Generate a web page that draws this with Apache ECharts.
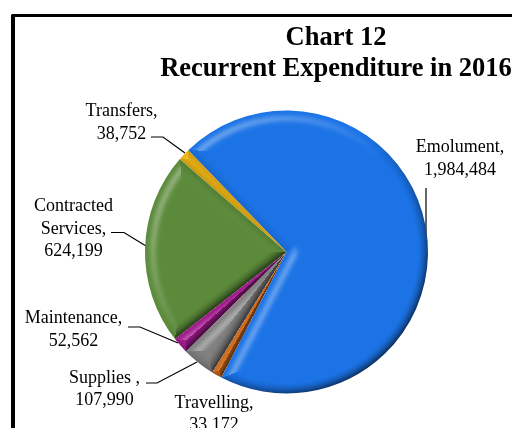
<!DOCTYPE html>
<html><head><meta charset="utf-8">
<style>html,body{margin:0;padding:0;background:#fff}#c{width:512px;height:428px}</style>
<script src="https://cdn.jsdelivr.net/npm/echarts@6/dist/echarts.min.js"></script></head>
<body><div id="c"></div>
<script>
const categories=['Emolument','Travelling','Supplies ','Maintenance','Contracted Services','Transfers'];
const labelNames=['Emolument,','Travelling,','Supplies ,','Maintenance,','Contracted\nServices,','Transfers,'];
const displayValues=['1,984,484','33,172','107,990','52,562','624,199','38,752'];
const values=[1984484,33172,107990,52562,624199,38752];
const baseColors=[[27,115,230],[205,105,26],[128,128,128],[160,24,140],[91,138,58],[236,180,20]];
const labelAnchors=[[460,159],[214,414.5],[104.5,389.5],[73.5,330],[73.5,229],[121.5,123]];
const leaderPaths=[
 [[426,236],[426,188]],
 [[222,376],[222,377]],
 [[197,362],[157,383],[146,383]],
 [[178,343],[140,327],[128,327]],
 [[146,246],[124,232.5],[111,232.5]],
 [[185,153],[163,137],[151,137]]
];
const cx=286.5,cy=252,R=141.5,startAngle=134;
const total=values.reduce((a,b)=>a+b,0);
function segDist(px,py,ex,ey){
 let t=((px-cx)*(ex-cx)+(py-cy)*(ey-cy))/(R*R);t=Math.max(0,Math.min(1,t));
 return [cx+t*(ex-cx),cy+t*(ey-cy)];
}
function bevelFill(i,a0,a1){
 const cv=document.createElement('canvas');cv.width=512;cv.height=428;
 const ctx=cv.getContext('2d'),img=ctx.createImageData(512,428),d=img.data;
 const e0=[cx+R*Math.cos(a0),cy+R*Math.sin(a0)],e1=[cx+R*Math.cos(a1),cy+R*Math.sin(a1)];
 const base=baseColors[i];
 const lx=-0.707,ly=-0.707;
 for(let y=0;y<428;y++)for(let x=0;x<512;x++){
  const dx=x+.5-cx,dy=y+.5-cy,r=Math.hypot(dx,dy);
  if(r>R+3)continue;
  const k=(y*512+x)*4;
  let best=Infinity,nx=0,ny=0;
  for(const e of [e0,e1]){
   const c=segDist(x+.5,y+.5,e[0],e[1]);
   const h=Math.hypot(c[0]-x-.5,c[1]-y-.5);
   if(h<best&&h>1e-6){best=h;nx=(c[0]-x-.5)/h;ny=(c[1]-y-.5)/h;}
  }
  const rim=Math.abs(R-r);
  if(rim<best&&r>1e-6){best=rim;nx=dx/r;ny=dy/r;}
  const s=nx*lx+ny*ly;
  const lit=Math.max(0,s)*Math.exp(-Math.pow((best-8)/4,2))*0.3;
  const dark=Math.max(0,-s+0.25)/1.25*Math.pow(Math.max(0,1-best/11),1.6)*0.62;
  for(let c=0;c<3;c++){
   let v=base[c];
   v=v+(255-v)*lit;
   v=v*(1-dark);
   d[k+c]=v;
  }
  d[k+3]=255;
 }
 ctx.putImageData(img,0,0);
 return {image:cv,repeat:'no-repeat'};
}
let acc=-startAngle*Math.PI/180;
const fills=values.map((v,i)=>{const a0=acc;acc+=v/total*2*Math.PI;return bevelFill(i,a0,acc);});
const chart=echarts.init(document.getElementById('c'));
chart.setOption({
 animation:false,
 title:{text:'Chart 12\nRecurrent Expenditure in 2016',left:331,top:18,textAlign:'center',
  textStyle:{fontFamily:'Liberation Serif',fontSize:26.5,fontWeight:'bold',color:'#000',lineHeight:31}},
 graphic:[{type:'polyline',silent:true,shape:{points:[[13,428],[13,15.5],[512,15.5]]},style:{fill:'none',stroke:'#000',lineWidth:3}},
          {type:'line',silent:true,shape:{x1:13,y1:15,x2:13,y2:428},style:{stroke:'#000',lineWidth:4}}],
 series:[{
  type:'pie',center:[cx,cy],radius:[0,R],startAngle:startAngle,clockwise:true,silent:true,
  data:values.map((v,i)=>({name:categories[i],value:v,
    itemStyle:{color:fills[i]},
    label:{formatter:labelNames[i]+'\n'+displayValues[i]},
    labelLine:{show:i!==1}})),
  label:{show:true,position:'outside',overflow:'none',fontFamily:'Liberation Serif',fontSize:18,lineHeight:22.5,color:'#000',align:'center'},
  labelLine:{show:true,lineStyle:{color:'#000',width:1.2}},
  labelLayout:p=>({x:labelAnchors[p.dataIndex][0],y:labelAnchors[p.dataIndex][1],align:'center',verticalAlign:'middle',labelLinePoints:leaderPaths[p.dataIndex]})
 }]
});
</script></body></html>
